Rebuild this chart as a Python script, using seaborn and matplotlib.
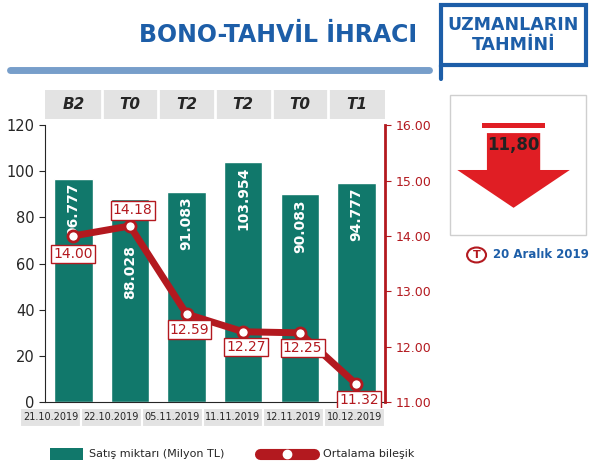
import matplotlib
matplotlib.use("Agg")
import matplotlib.pyplot as plt
import seaborn as sns
import pandas as pd
from matplotlib.patches import Rectangle, Polygon, Circle

dates = ["21.10.2019", "22.10.2019", "05.11.2019", "11.11.2019", "12.11.2019", "10.12.2019"]
codes = ["B2", "T0", "T2", "T2", "T0", "T1"]
sales = [96.777, 88.028, 91.083, 103.954, 90.083, 94.777]
rates = [14.00, 14.18, 12.59, 12.27, 12.25, 11.32]

df = pd.DataFrame({"date": dates, "sales": sales, "rate": rates, "x": range(6)})
TEAL = "#11786b"; RED = "#b3191f"; BLUE = "#1d5ea8"

sns.set_style("white")
plt.rcParams['font.family'] = ['DejaVu Sans']
fig = plt.figure(figsize=(5.92, 4.67), dpi=100)

ax = fig.add_axes([0.076, 0.139, 0.574, 0.593])
sns.barplot(data=df, x="x", y="sales", color=TEAL, width=0.68, ax=ax, saturation=1)
ax.set_ylim(0, 120); ax.set_xlim(-0.5, 5.5)
ax.set_yticks(range(0, 121, 20))
ax.set_xticks([]); ax.set_xlabel(""); ax.set_ylabel("")
ax.tick_params(axis='y', labelsize=10.5, length=4, left=True)
for s in ["top", "right"]:
    ax.spines[s].set_visible(False)
label_top = [95, 68, 89, 102, 88, 93]
for i, v in enumerate(sales):
    ax.text(i, label_top[i], f"{v:.3f}", rotation=90, ha="center", va="top",
            color="white", fontsize=10, fontweight="bold")
ax.grid(False)

ax2 = ax.twinx()
sns.lineplot(data=df, x="x", y="rate", color=RED, lw=5, ax=ax2, marker="o",
             markersize=8, markerfacecolor="white", markeredgecolor=RED, markeredgewidth=2)
ax2.set_ylim(11, 16); ax2.set_xlim(-0.5, 5.5)
ax2.set_yticks([11, 12, 13, 14, 15, 16])
ax2.set_yticklabels([f"{t:.2f}" for t in [11, 12, 13, 14, 15, 16]], color=RED, fontsize=9)
ax2.tick_params(axis='y', colors=RED, length=4, labelcolor=RED)
ax2.spines["right"].set_color(RED); ax2.spines["right"].set_linewidth(2)
for s in ["top", "left", "bottom"]:
    ax2.spines[s].set_visible(False)
ax2.set_ylabel(""); ax2.set_xlabel("")
offs = [(0.0, -0.33), (0.05, 0.28), (0.05, -0.28), (0.05, -0.28), (0.05, -0.28), (0.05, -0.28)]
for i, r in enumerate(rates):
    dx, dy = offs[i]
    ax2.text(i + dx, r + dy, f"{r:.2f}", ha="center", va="center", color=RED,
             fontsize=10, bbox=dict(boxstyle="square,pad=0.15", fc="white", ec=RED, lw=1))

# header band with codes
hdr = fig.add_axes([0.076, 0.745, 0.574, 0.062])
hdr.set_xlim(-0.5, 5.5); hdr.set_ylim(0, 1); hdr.axis("off")
hdr.add_patch(Rectangle((-0.5, 0), 6, 1, fc="#e3e3e3", ec="none"))
for i, c in enumerate(codes):
    hdr.text(i, 0.5, c, ha="center", va="center", fontsize=11, fontweight="bold", style="italic")
    if i:
        hdr.plot([i - 0.5, i - 0.5], [0, 1], color="white", lw=2)

# date band
db = fig.add_axes([0.025, 0.085, 0.625, 0.042])
db.set_xlim(-0.5 - 0.09, 5.5); db.set_ylim(0, 1); db.axis("off")
for i, d in enumerate(dates):
    db.add_patch(Rectangle((i - 0.5, 0), 1, 1, fc="#e3e3e3", ec="white", lw=1.5))
    db.text(i, 0.5, d, ha="center", va="center", fontsize=7)

# title
fig.text(0.705, 0.925, "BONO-TAHVİL İHRACI", ha="right", va="center", color=BLUE,
         fontsize=17, fontweight="bold")
fig.add_artist(plt.Line2D([0.017, 0.725], [0.85, 0.85], color=BLUE, lw=5, alpha=0.6))

# right panel
fig.add_artist(Rectangle((0.745, 0.86), 0.245, 0.13, fc="white", ec=BLUE, lw=3, transform=fig.transFigure))
fig.text(0.8675, 0.925, "UZMANLARIN\nTAHMİNİ", ha="center", va="center", color=BLUE,
         fontsize=12.5, fontweight="bold", linespacing=1.1)
fig.add_artist(plt.Line2D([0.745, 0.745], [0.86, 0.83], color=BLUE, lw=3))
fig.add_artist(Rectangle((0.76, 0.497), 0.23, 0.3, fc="white", ec="#cfcfcf", lw=1, transform=fig.transFigure))
fig.add_artist(Rectangle((0.815, 0.725), 0.105, 0.012, fc="#e01e24", ec="none", transform=fig.transFigure))
cx = 0.8675
fig.add_artist(Polygon([(cx - 0.045, 0.715), (cx + 0.045, 0.715), (cx + 0.045, 0.636),
                        (cx + 0.095, 0.636), (cx, 0.555), (cx - 0.095, 0.636), (cx - 0.045, 0.636)],
                       closed=True, fc="#e01e24", ec="none", transform=fig.transFigure))
fig.text(cx, 0.69, "11,80", ha="center", va="center", color="#222222", fontsize=12, fontweight="bold")
fig.add_artist(Circle((0.805, 0.454), 0.016, fc="white", ec=RED, lw=1.5, transform=fig.transFigure))
fig.text(0.805, 0.454, "T", ha="center", va="center", color=RED, fontsize=8, fontweight="bold")
fig.text(0.832, 0.454, "20 Aralık 2019", ha="left", va="center", color=BLUE, fontsize=8.5, fontweight="bold")

# legend
fig.add_artist(Rectangle((0.085, 0.015), 0.055, 0.025, fc=TEAL, ec="none", transform=fig.transFigure))
fig.text(0.15, 0.027, "Satış miktarı (Milyon TL)", fontsize=8, va="center")
fig.add_artist(plt.Line2D([0.44, 0.53], [0.027, 0.027], color=RED, lw=8, solid_capstyle="round"))
fig.add_artist(plt.Line2D([0.485], [0.027], marker="o", color="white", markersize=6))
fig.text(0.545, 0.027, "Ortalama bileşik", fontsize=8, va="center")

fig.savefig("out.png", dpi=100)
